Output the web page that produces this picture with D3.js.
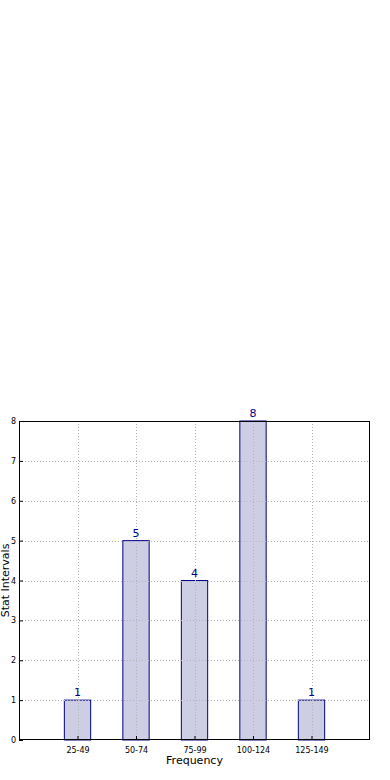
<!DOCTYPE html>
<html>
<head>
<meta charset="utf-8">
<script src="https://cdn.jsdelivr.net/npm/d3@7"></script>
<style>
  html, body { margin: 0; padding: 0; background: #fff; }
  svg { display: block; font-family: "DejaVu Sans", sans-serif; }
</style>
</head>
<body>
<div id="chart"></div>
<script>
// Chart data
const categories = ["25-49", "50-74", "75-99", "100-124", "125-149"];
const counts = [1, 5, 4, 8, 1];
const yTicks = [0, 1, 2, 3, 4, 5, 6, 7, 8];

const W = 390, H = 780;
const margin = {top: 421, right: 20, bottom: 40, left: 19};
const width = W - margin.left - margin.right;
const height = H - margin.top - margin.bottom;

const svg = d3.select("#chart").append("svg")
  .attr("width", W)
  .attr("height", H);

const g = svg.append("g")
  .attr("transform", `translate(${margin.left},${margin.top})`);

// Categories sit at 1..5 on a 0..6 axis
const x = d3.scaleLinear().domain([0, categories.length + 1]).range([0, width]);
const y = d3.scaleLinear().domain([0, 8]).range([height, 0]);
const barW = x(0.45) - x(0);

// Bars
g.selectAll("rect.bar")
  .data(counts)
  .enter()
  .append("rect")
  .attr("class", "bar")
  .attr("x", (d, i) => x(i + 1) - barW / 2)
  .attr("y", d => y(d))
  .attr("width", barW)
  .attr("height", d => height - y(d))
  .attr("fill", "#cdcde3")
  .attr("stroke", "#00008b")
  .attr("stroke-width", 1);

// Grid (drawn over bars, dotted)
const grid = g.append("g").attr("stroke", "#b4b4b4").attr("stroke-dasharray", "1,2").attr("stroke-width", 1);
grid.selectAll("line.h")
  .data(yTicks.slice(1, -1))
  .enter().append("line")
  .attr("x1", 0).attr("x2", width)
  .attr("y1", d => Math.round(y(d)) + 0.5).attr("y2", d => Math.round(y(d)) + 0.5);
grid.selectAll("line.v")
  .data(categories)
  .enter().append("line")
  .attr("y1", 0).attr("y2", height)
  .attr("x1", (d, i) => Math.round(x(i + 1)) + 0.5).attr("x2", (d, i) => Math.round(x(i + 1)) + 0.5);

// Value labels
g.selectAll("text.val")
  .data(counts)
  .enter().append("text")
  .attr("x", (d, i) => x(i + 1))
  .attr("y", d => y(d) - 4)
  .attr("text-anchor", "middle")
  .attr("fill", "#00008b")
  .attr("font-size", "11px")
  .text(d => d);

// Axes
const xAxis = d3.axisBottom(x)
  .tickValues(d3.range(1, categories.length + 1))
  .tickFormat(d => categories[d - 1])
  .tickSizeInner(-4).tickSizeOuter(0).tickPadding(7);
const xg = g.append("g").attr("transform", `translate(0,${height})`).call(xAxis);

const yAxis = d3.axisLeft(y)
  .tickValues(yTicks)
  .tickSizeInner(-4).tickSizeOuter(0).tickPadding(3);
const yg = g.append("g").call(yAxis);

[xg, yg].forEach(a => {
  a.select(".domain").remove();
  a.selectAll("text").attr("font-size", "8px").attr("fill", "#000").attr("font-family", "DejaVu Sans, sans-serif");
  a.selectAll("line").attr("stroke", "#000");
});

// Frame
g.append("rect")
  .attr("x", 0.5).attr("y", 0.5)
  .attr("width", width - 1).attr("height", height - 1)
  .attr("fill", "none")
  .attr("stroke", "#000")
  .attr("stroke-width", 1);

// Axis labels
svg.append("text")
  .attr("x", margin.left + width / 2)
  .attr("y", H - 16)
  .attr("text-anchor", "middle")
  .attr("font-size", "11px")
  .text("Frequency");

svg.append("text")
  .attr("transform", `translate(9,${margin.top + height / 2}) rotate(-90)`)
  .attr("text-anchor", "middle")
  .attr("font-size", "11px")
  .text("Stat Intervals");
</script>
</body>
</html>
